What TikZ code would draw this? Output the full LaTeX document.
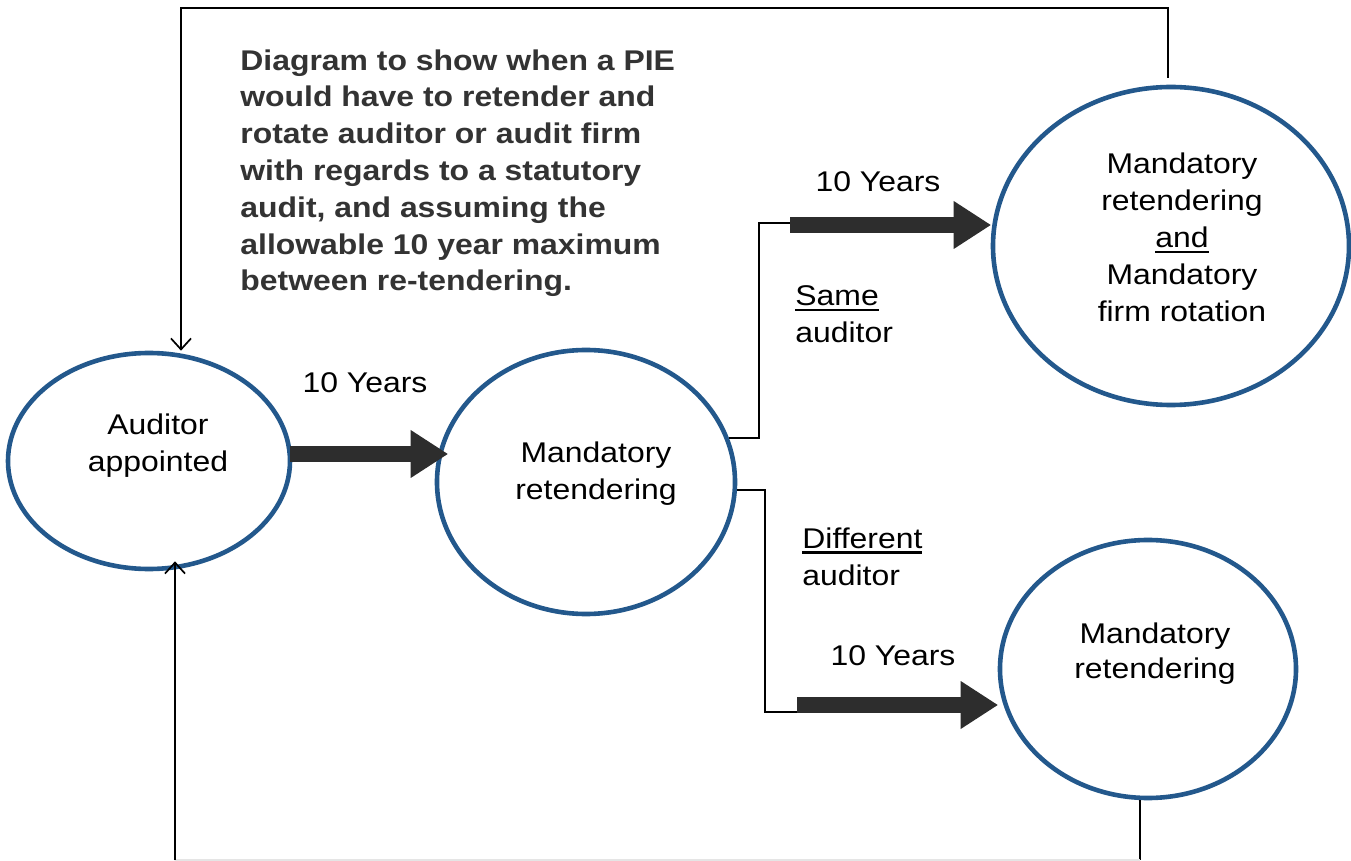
\documentclass[tikz,border=0pt]{standalone}
\usepackage{fontspec}
\setmainfont{Liberation Sans}[FakeStretch=1.12]
\usetikzlibrary{arrows.meta,shapes.geometric,calc}
\definecolor{ellblue}{RGB}{35,88,140}
\definecolor{arrowgray}{RGB}{45,45,45}
\definecolor{titlegray}{RGB}{51,51,51}
\newcommand{\myul}[1]{{\setbox0\hbox{#1}\rlap{\rule[-2.8pt]{\wd0}{1.1pt}}\box0}}
\begin{document}
\begin{tikzpicture}[x=0.5pt,y=-0.5pt,
  ell/.style={ellipse, draw=ellblue, line width=2.3pt, inner sep=0pt},
  lbl/.style={font=\fontsize{14.25}{18.5}\selectfont, inner sep=0pt, align=center},
  one/.style={font=\fontsize{14.25}{18.5}\selectfont, inner sep=0pt, anchor=base},
  conn/.style={line width=0.85pt, draw=black},
  openarrow/.style={conn, -{Straight Barb[length=5.5pt, width=10pt, line width=0.85pt]}},
  bigarrow/.style={draw=arrowgray, line width=8pt, -{Triangle[length=18.5pt, width=24pt, line width=0pt]}}]
\useasboundingbox[fill=white] (0,0) rectangle (1351,861);

% ellipses
\node[ell, minimum width=141pt, minimum height=108pt] (a) at (149,461) {};
\node[ell, minimum width=149pt, minimum height=132pt] (b) at (586,482) {};
\node[ell, minimum width=178pt, minimum height=159pt] (c) at (1171,246) {};
\node[ell, minimum width=148pt, minimum height=129pt] (d) at (1148,669) {};

% texts inside ellipses
\node[lbl] (ta) at (158,446) {Auditor\\appointed};
\node[lbl] (tb) at (596,474) {Mandatory\\retendering};
\node[lbl] (tc) at (1182,237) {Mandatory\\retendering\\\myul{and}\\Mandatory\\firm rotation};
\node[lbl, font=\fontsize{14.25}{17.5}\selectfont] (td) at (1155,654) {Mandatory\\retendering};

% title
\node[font=\bfseries\fontsize{14.25}{18.4}\selectfont, text=titlegray, align=left, anchor=north west, inner sep=0pt] (title) at (240,49)
 {Diagram to show when a PIE\\would have to retender and\\rotate auditor or audit firm\\with regards to a statutory\\audit, and assuming the\\allowable 10 year maximum\\between re-tendering.};

% labels
\node[one] (y1) at (365,393) {10 Years};
\node[one] (y2) at (878,192) {10 Years};
\node[one] (y3) at (893,665) {10 Years};
\node[lbl, align=left, anchor=north west] (same) at (795,285) {\myul{Same}\\auditor};
\node[lbl, align=left, anchor=north west] (diff) at (802,527) {\myul{Different}\\auditor};

% coordinates
\coordinate (s1) at (290,454);
\coordinate (s2) at (790,225);
\coordinate (j1) at (759,223);
\coordinate (s2t) at (790,223);
\coordinate (s3) at (797,705);
\coordinate (j2) at (765,712);
\coordinate (s3t) at (797,712);
\coordinate (t1) at (1168,78);
\coordinate (t2) at (181,8);
\coordinate (b1) at (1140,860.3);
\coordinate (b2) at (175,860.3);

% thick arrows
\draw[bigarrow] (s1) -- ($(b.west |- s1)+(13,0)$);
\draw[bigarrow] (s2) -- (c.west |- s2);
\draw[bigarrow] (s3) -- (d.west |- s3);

% thin connectors
\draw[conn] (b.17) -| (j1) -- (s2t);
\draw[conn] (b.-3) -| (j2) -- (s3t);

% feedback loops
\draw[openarrow] (t1) |- (t2) -- (a.north -| t2);
\draw[conn] (d.south -| b1) -- (b1);
\draw[conn, draw=black!10] (b1) -- (b2);
\draw[openarrow] (b2) -- ($(a.south -| b2)+(0,-10)$);
\end{tikzpicture}
\end{document}
